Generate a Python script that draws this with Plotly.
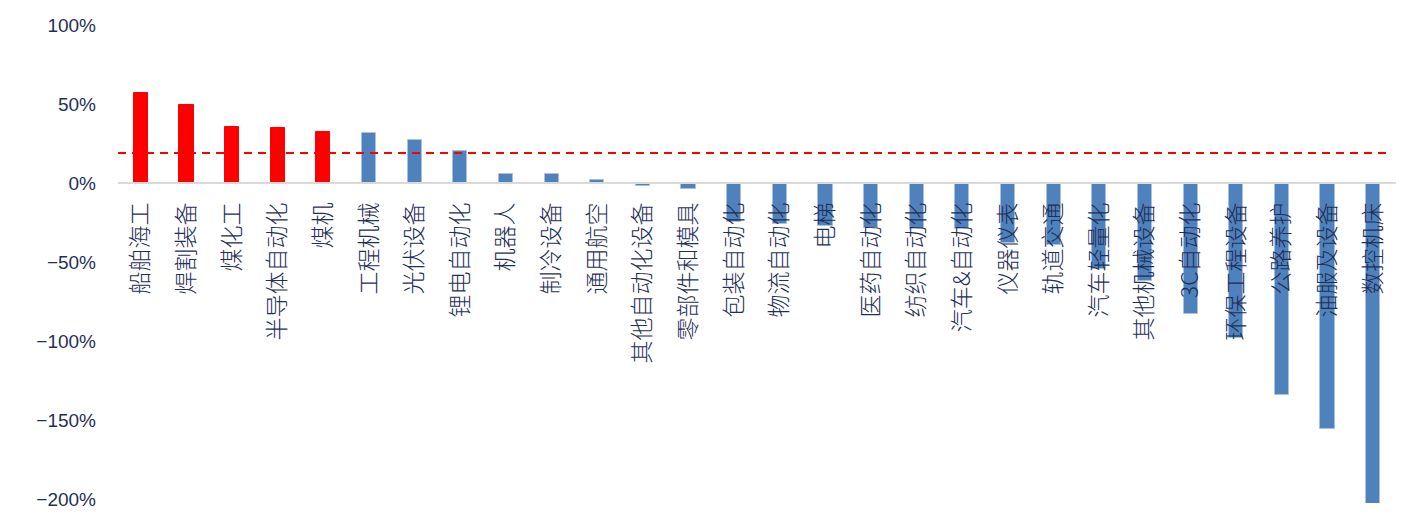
import plotly.graph_objects as go

# 细分行业 及 对应涨跌幅（%）
categories = [
    "船舶海工", "焊割装备", "煤化工", "半导体自动化", "煤机", "工程机械", "光伏设备",
    "锂电自动化", "机器人", "制冷设备", "通用航空", "其他自动化设备", "零部件和模具",
    "包装自动化", "物流自动化", "电梯", "医药自动化", "纺织自动化", "汽车&自动化",
    "仪器仪表", "轨道交通", "汽车轻量化", "其他机械设备", "3C自动化", "环保工程设备",
    "公路养护", "油服及设备", "数控机床",
]
values = [
    56.9, 49.3, 35.4, 34.7, 32.2, 31.8, 27.4,
    20.2, 6.0, 5.7, 1.9, -1.9, -3.4,
    -24.2, -25.7, -27.2, -28.2, -28.9, -28.9,
    -37.7, -39.2, -54.1, -61.9, -82.9, -98.1,
    -134.1, -155.2, -203.0,
]
# 前五名高亮
highlight_count = 5
benchmark = 19.1  # 平均水平（虚线）

y_ticks = [100, 50, 0, -50, -100, -150, -200]
y_tick_text = ["100%", "50%", "0%", "\u221250%", "\u2212100%", "\u2212150%", "\u2212200%"]
y_min, y_max = -202.1, 100

RED = "#ff0000"
BLUE = "#4f81bd"
TEXT = "#1f3057"

colors = [RED if i < highlight_count else BLUE for i in range(len(categories))]
edge_colors = [RED if i < highlight_count else "#a9c0de" for i in range(len(categories))]

fig = go.Figure()
fig.add_trace(go.Bar(
    x=categories,
    y=values,
    marker=dict(color=colors, line=dict(color=edge_colors, width=1)),
    width=0.31,
    hoverinfo="x+y",
))

# 平均水平虚线
fig.add_shape(
    type="line", xref="paper", yref="y",
    x0=0, x1=0.993, y0=benchmark, y1=benchmark,
    line=dict(color=RED, width=2, dash="8px,6px"),
    layer="above",
)

zero_pos = (0 - y_min) / (y_max - y_min)

fig.update_layout(
    width=1411, height=514,
    margin=dict(l=118, r=15, t=25, b=11),
    paper_bgcolor="white", plot_bgcolor="white",
    showlegend=False,
    bargap=0,
    xaxis=dict(
        type="category",
        automargin=False,
        range=[-0.5, len(categories) - 0.5],
        anchor="free", position=zero_pos,
        showline=True, linecolor="#d9d9d9", linewidth=2,
        showgrid=False, zeroline=False, ticks="",
        tickangle=-90,
        ticklabelstandoff=9,
        tickfont=dict(family="Noto Sans CJK SC", size=23, color=TEXT, weight=300),
    ),
    yaxis=dict(
        automargin=False,
        range=[y_min, y_max],
        tickvals=y_ticks,
        ticktext=y_tick_text,
        showgrid=False, zeroline=False, showline=False, ticks="",
        ticklabelstandoff=21,
        tickfont=dict(family="Liberation Sans", size=19, color=TEXT),
    ),
)

fig.write_html("out.html")
